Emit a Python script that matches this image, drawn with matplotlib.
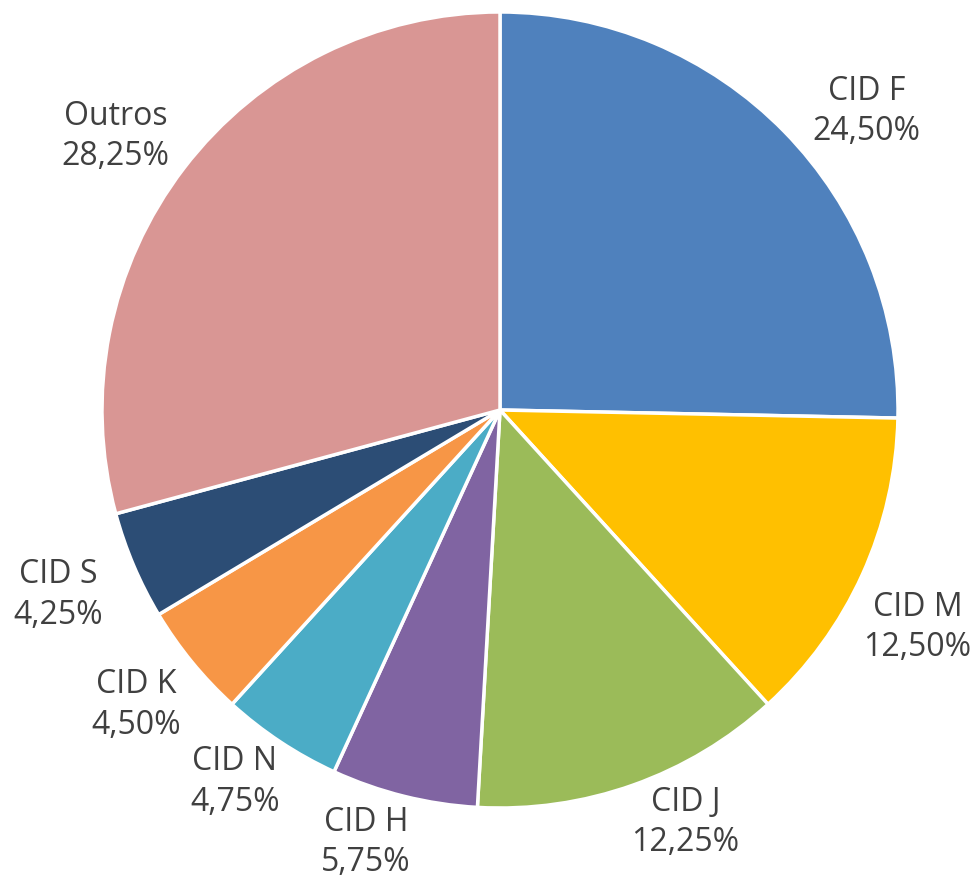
import matplotlib
matplotlib.use("Agg")
import numpy as np
import matplotlib.pyplot as plt

# ----------------- DATA -----------------
categories = ["CID F", "CID M", "CID J", "CID H", "CID N", "CID K", "CID S", "Outros"]
values     = [24.50, 12.50, 12.25, 5.75, 4.75, 4.50, 4.25, 28.25]
colors     = ["#4F81BD", "#FFC000", "#9BBB59", "#8064A2",
              "#4BACC6", "#F79646", "#2C4D75", "#D99694"]
# label placement tweaks (Excel doesn't put them exactly on the mid ray)
label_dist   = [1.188, 1.183, 1.136, 1.138, 1.148, 1.177, 1.203, 1.186]
label_offset = [-5.3, -3.1, 4.7, -3.25, -2.0, -0.3, -0.3, 2.0]   # degrees
# -----------------------------------------

labels = [f"{c}\n{v:.2f}%".replace(".", ",") for c, v in zip(categories, values)]

W, H = 977, 882
fig = plt.figure(figsize=(W / 100, H / 100), dpi=100)

# pie centre at (500, 410) px, radius ~398 px
cx, cy, r = 500, 410, 398
ax = fig.add_axes([(cx - r) / W, (H - cy - r) / H, 2 * r / W, 2 * r / H])

wedges, _ = ax.pie(
    values,
    colors=colors,
    startangle=90,
    counterclock=False,
    wedgeprops=dict(edgecolor="white", linewidth=2.5),
)

for w, lab, d, off in zip(wedges, labels, label_dist, label_offset):
    ang = np.deg2rad((w.theta1 + w.theta2) / 2 + off)
    ax.text(d * np.cos(ang), d * np.sin(ang), lab, ha="center", va="center",
            fontsize=23, color="#404040", family="Open Sans", linespacing=1.3)

ax.set_xlim(-1, 1)
ax.set_ylim(-1, 1)
ax.set_aspect("equal")

fig.savefig("out.png", dpi=100)
